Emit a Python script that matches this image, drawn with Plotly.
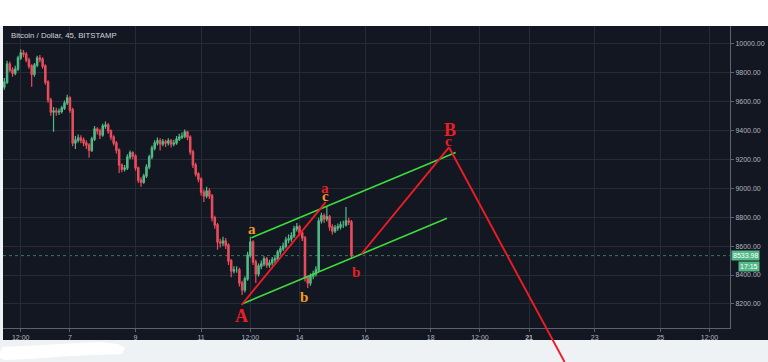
import plotly.graph_objects as go
import pandas as pd

# ---------------- data ----------------
TITLE = "Bitcoin / Dollar, 45, BITSTAMP"
candle_start = "2018-05-05 00:00"
candle_freq = "2h"
first_open = 9700

close = [
    9733, 9857, 9816, 9795, 9823, 9899, 9933, 9925, 9885, 9843,
    9788, 9850, 9899, 9890, 9843, 9733, 9609, 9526, 9533, 9526,
    9530, 9553, 9588, 9622, 9540, 9312, 9332, 9346, 9332, 9312,
    9298, 9263, 9339, 9408, 9395, 9367, 9429, 9436, 9395, 9353,
    9312, 9263, 9160, 9132, 9139, 9215, 9243, 9222, 9139, 9056,
    9042, 9084, 9146, 9215, 9277, 9312, 9326, 9305, 9319, 9312,
    9326, 9305, 9312, 9339, 9353, 9360, 9388, 9353, 9250, 9160,
    9098, 9063, 8973, 8946, 8980, 8946, 8794, 8746, 8628, 8621,
    8635, 8607, 8497, 8428, 8435, 8435, 8345, 8297, 8373, 8538,
    8628, 8490, 8407, 8462, 8476, 8511, 8469, 8483, 8504, 8511,
    8559, 8580, 8600, 8642, 8649, 8670, 8718, 8732, 8690, 8656,
    8380, 8345, 8393, 8407, 8435, 8773, 8808, 8787, 8801, 8732,
    8704, 8725, 8732, 8746, 8746, 8773, 8766, 8533.98,
]
high = [
    9760, 9880, 9875, 9835, 9845, 9915, 9960, 9955, 9940, 9900,
    9855, 9865, 9915, 9920, 9905, 9855, 9745, 9625, 9560, 9555,
    9550, 9570, 9605, 9645, 9635, 9555, 9360, 9370, 9365, 9350,
    9330, 9310, 9355, 9430, 9420, 9410, 9445, 9460, 9450, 9405,
    9365, 9325, 9275, 9170, 9160, 9235, 9260, 9255, 9235, 9150,
    9075, 9100, 9165, 9230, 9295, 9330, 9350, 9345, 9340, 9335,
    9345, 9340, 9335, 9360, 9375, 9385, 9405, 9395, 9365, 9265,
    9175, 9110, 9075, 8990, 9010, 9000, 8960, 8810, 8760, 8650,
    8665, 8655, 8620, 8510, 8460, 8460, 8450, 8360, 8390, 8560,
    8665, 8640, 8505, 8480, 8500, 8530, 8525, 8505, 8525, 8535,
    8575, 8600, 8625, 8665, 8680, 8695, 8740, 8760, 8745, 8705,
    8670, 8395, 8410, 8430, 8460, 8795, 8830, 8825, 8870, 8815,
    8750, 8745, 8755, 8770, 8775, 8870, 8795, 8780,
]
low = [
    9680, 9720, 9800, 9770, 9780, 9810, 9885, 9905, 9870, 9825,
    9700, 9770, 9835, 9870, 9825, 9715, 9590, 9500, 9390, 9500,
    9505, 9515, 9540, 9575, 9520, 9290, 9270, 9315, 9310, 9290,
    9270, 9210, 9250, 9325, 9370, 9340, 9355, 9410, 9375, 9330,
    9295, 9240, 9105, 9110, 9115, 9125, 9200, 9200, 9120, 9035,
    9010, 9030, 9070, 9130, 9200, 9260, 9295, 9260, 9290, 9285,
    9295, 9280, 9290, 9300, 9325, 9340, 9345, 9330, 9230, 9140,
    9080, 9040, 8950, 8905, 8930, 8925, 8770, 8720, 8575, 8590,
    8600, 8580, 8470, 8385, 8410, 8415, 8320, 8262, 8280, 8360,
    8520, 8470, 8345, 8390, 8440, 8460, 8450, 8450, 8465, 8480,
    8495, 8540, 8565, 8585, 8620, 8630, 8655, 8700, 8670, 8635,
    8355, 8310, 8325, 8370, 8390, 8420, 8755, 8760, 8770, 8705,
    8680, 8690, 8705, 8715, 8725, 8735, 8745, 8515,
]

last_price = 8533.98
last_price_label = "8533.98"
countdown_label = "17:15"

x_tick_dates = ["2018-05-05 12:00", "2018-05-07", "2018-05-09", "2018-05-11",
                "2018-05-12 12:00", "2018-05-14", "2018-05-16", "2018-05-18",
                "2018-05-19 12:00", "2018-05-21", "2018-05-23", "2018-05-25",
                "2018-05-26 12:00"]
x_tick_text = ["12:00", "7", "9", "11", "12:00", "14", "16", "18", "12:00",
               "<b>21</b>", "23", "25", "12:00"]
y_tick_values = [8200, 8400, 8600, 8800, 9000, 9200, 9400, 9600, 9800, 10000]
y_tick_text = ["8200.00", "8400.00", "8600.00", "8800.00", "9000.00",
               "9200.00", "9400.00", "9600.00", "9800.00", "10000.00"]

x_range = ["2018-05-04 23:01", "2018-05-27 03:00"]
y_range = [8034, 10120]

# hand-drawn analysis lines
green_upper_t = ["2018-05-12 12:52", "2018-05-18 18:16"]
green_upper_p = [8658, 9246]
green_lower_t = ["2018-05-12 06:43", "2018-05-18 11:54"]
green_lower_p = [8203, 8792]
red_first_t = ["2018-05-12 05:34", "2018-05-14 19:12"]
red_first_p = [8193, 8904]
red_second_t = ["2018-05-15 21:18", "2018-05-18 13:22"]
red_second_p = [8545, 9282]
red_third_t = ["2018-05-18 13:22", "2018-05-22 01:58"]
red_third_p = [9282, 7799]

# wave labels
label_text = ["A", "a", "b", "a", "c", "b", "B", "c"]
label_time = ["2018-05-12 05:24", "2018-05-12 13:05", "2018-05-14 03:07",
              "2018-05-14 18:42", "2018-05-14 18:42", "2018-05-15 17:08",
              "2018-05-18 14:24", "2018-05-18 12:39"]
label_price = [8117, 8716, 8250, 9003, 8946, 8419, 9401, 9328]
label_kind = ["red_big", "orange", "orange", "red", "orange", "red", "red_big", "red"]

# ---------------- style ----------------
W, H = 768, 362
ML, MR, MT, MB = 3, 38, 26, 34
PW, PH = W - ML - MR, H - MT - MB
BG = "#131722"
GRID = "#262b38"
AXIS = "#5d6270"
TICK = "#b2b5be"
UP = "#53b987"
DOWN = "#eb4d5c"
RED = "#ee1c24"
ORANGE = "#f59a23"
LGREEN = "#3ddc3d"
SANS = "Liberation Sans"
SERIF = "Liberation Serif"


def px_x(px):
    return (px - ML) / PW


def px_y(py):
    return (MT + PH - py) / PH


times = pd.date_range(candle_start, periods=len(close), freq=candle_freq)
opens = [first_open] + close[:-1]

fig = go.Figure()
fig.add_trace(go.Candlestick(
    x=times, open=opens, high=high, low=low, close=close,
    increasing=dict(line=dict(color=UP, width=1.2), fillcolor=UP),
    decreasing=dict(line=dict(color=DOWN, width=1.2), fillcolor=DOWN),
    whiskerwidth=0, hoverinfo="skip", showlegend=False,
))

for t, p, col, w in [
    (green_upper_t, green_upper_p, LGREEN, 1.6),
    (green_lower_t, green_lower_p, LGREEN, 1.6),
    (red_first_t, red_first_p, RED, 1.9),
    (red_second_t, red_second_p, RED, 1.9),
]:
    fig.add_trace(go.Scatter(x=t, y=p, mode="lines",
                             line=dict(color=col, width=w),
                             hoverinfo="skip", showlegend=False))

span = y_range[1] - y_range[0]
shapes = [
    dict(type="rect", xref="paper", yref="paper", x0=0, x1=px_x(W),
         y0=px_y(340), y1=1, fillcolor=BG, line=dict(width=0), layer="below"),
    dict(type="rect", xref="paper", yref="paper", x0=px_x(0), x1=px_x(W),
         y0=1, y1=px_y(0), fillcolor="#ffffff", line=dict(width=0), layer="below"),
    dict(type="line", xref="paper", yref="y", x0=0, x1=1, y0=last_price, y1=last_price,
         line=dict(color=UP, width=1, dash="dot"), opacity=0.6, layer="below"),
    # descending projection leaves the chart at the bottom
    dict(type="line", xref="x", yref="paper",
         x0=red_third_t[0], x1=red_third_t[1],
         y0=(red_third_p[0] - y_range[0]) / span,
         y1=(red_third_p[1] - y_range[0]) / span,
         line=dict(color=RED, width=1.9)),
]
# white blob at bottom left
blob = [(0, 352), (2, 347), (25, 346), (60, 344), (100, 342), (118, 344),
        (125, 348), (122, 354), (70, 356), (30, 359), (5, 360), (0, 358)]
path = "M " + " L ".join(f"{px_x(a):.4f},{px_y(b):.4f}" for a, b in blob) + " Z"
shapes.append(dict(type="path", xref="paper", yref="paper", path=path,
                   fillcolor="#ffffff", line=dict(width=0)))

annotations = [
    dict(xref="paper", yref="paper", x=px_x(9), y=px_y(35.7), xanchor="left",
         yanchor="middle", text=TITLE, showarrow=False,
         font=dict(family=SANS, size=7.8, color="#d1d4dc")),
    dict(xref="paper", yref="y", x=px_x(760), y=last_price, xanchor="right",
         yanchor="middle", text=last_price_label, showarrow=False, bgcolor=UP,
         borderpad=1, font=dict(family=SANS, size=7, color="#ffffff")),
    dict(xref="paper", yref="y", x=px_x(760), y=last_price, yshift=-11,
         xanchor="right", yanchor="middle", text=countdown_label, showarrow=False,
         bgcolor=UP, borderpad=1, font=dict(family=SANS, size=7, color="#ffffff")),
]
kind_style = {"red_big": (RED, 18), "red": (RED, 15), "orange": (ORANGE, 15)}
for txt, t, p, k in zip(label_text, label_time, label_price, label_kind):
    col, sz = kind_style[k]
    annotations.append(dict(xref="x", yref="y", x=t, y=p, text=f"<b>{txt}</b>",
                            showarrow=False, xanchor="center", yanchor="middle",
                            font=dict(family=SERIF, size=sz, color=col)))

fig.update_layout(
    width=W, height=H,
    margin=dict(l=ML, r=MR, t=MT, b=MB, pad=0),
    paper_bgcolor="#eff2f5", plot_bgcolor=BG,
    showlegend=False,
    shapes=shapes, annotations=annotations,
    xaxis=dict(type="date", range=x_range, tickvals=x_tick_dates, ticktext=x_tick_text,
               showgrid=True, gridcolor=GRID, gridwidth=1, zeroline=False,
               showline=True, linecolor=AXIS, linewidth=1,
               ticks="outside", ticklen=3, tickcolor=AXIS,
               tickfont=dict(family=SANS, size=7, color=TICK),
               rangeslider=dict(visible=False), fixedrange=True),
    yaxis=dict(side="right", range=y_range, tickvals=y_tick_values, ticktext=y_tick_text,
               showgrid=True, gridcolor=GRID, gridwidth=1, zeroline=False,
               showline=True, linecolor=AXIS, linewidth=1,
               ticks="outside", ticklen=3, tickcolor=AXIS,
               tickfont=dict(family=SANS, size=7, color=TICK), fixedrange=True),
)

fig.write_html(
    "out.html",
    config={"displayModeBar": False},
    post_script="document.body.style.margin='0';document.body.style.overflow='hidden';",
)
